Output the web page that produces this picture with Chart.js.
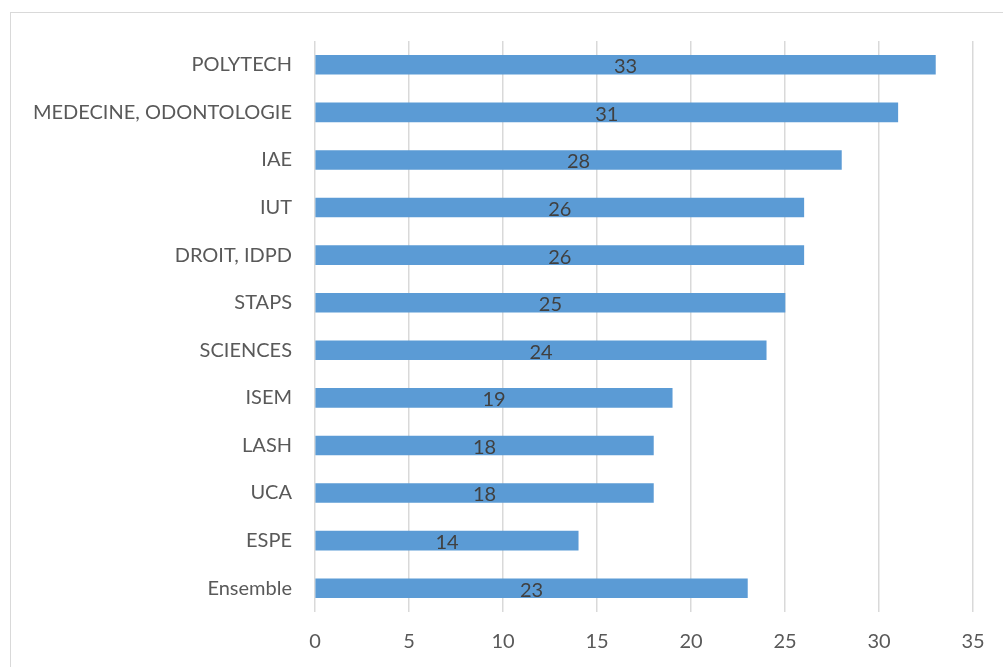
<!DOCTYPE html>
<html>
<head>
<meta charset="utf-8">
<script src="https://cdn.jsdelivr.net/npm/chart.js@4"></script>
<style>
    html, body { margin: 0; padding: 0; background: #ffffff; overflow: hidden; }
    #cadre { position: absolute; left: 10px; top: 12px; width: 1100px; height: 800px; border: 1px solid #d9d9d9; }
    #zone { position: absolute; left: 0; top: 0; width: 1003px; height: 667px; }
</style>
</head>
<body>
<div id="cadre"></div>
<div id="zone"><canvas id="barres"></canvas></div>
<script>
var composantes = ["POLYTECH", "MEDECINE, ODONTOLOGIE", "IAE", "IUT", "DROIT, IDPD", "STAPS",
    "SCIENCES", "ISEM", "LASH", "UCA", "ESPE", "Ensemble"];
var valeurs = [33, 31, 28, 26, 26, 25, 24, 19, 18, 18, 14, 23];
var graduations = [0, 5, 10, 15, 20, 25, 30, 35];

var police = "Lato, 'Open Sans', sans-serif";

// etiquettes au centre des barres
var etiquettes = {
    id: 'etiquettes',
    afterDatasetsDraw: function(chart) {
        var ctx = chart.ctx;
        var meta = chart.getDatasetMeta(0);
        ctx.save();
        ctx.fillStyle = '#404040';
        ctx.font = '20px ' + police;
        ctx.textAlign = 'center';
        ctx.textBaseline = 'middle';
        meta.data.forEach(function(bar, i) {
            var x = (bar.x + bar.base) / 2;
            ctx.fillText(String(valeurs[i]), x, bar.y + 2);
        });
        ctx.restore();
    }
};

var barres = document.getElementById("barres");
var monGraphique = new Chart(barres, {
    type: 'bar',
    data: {
        labels: composantes,
        datasets: [{
            data: valeurs,
            backgroundColor: "#5B9BD5",
            borderWidth: 0,
            barThickness: 19
        }]
    },
    options: {
        indexAxis: 'y',
        responsive: true,
        maintainAspectRatio: false,
        animation: false,
        layout: {
            padding: { top: 41, right: 30, bottom: 0, left: 0 }
        },
        plugins: {
            legend: { display: false },
            tooltip: { enabled: false }
        },
        scales: {
            x: {
                min: 0,
                max: 35,
                afterBuildTicks: function(axis) {
                    axis.ticks = graduations.map(function(v) { return { value: v }; });
                },
                afterFit: function(axis) { axis.height = 55; },
                border: { display: false },
                grid: { color: '#d9d9d9', lineWidth: 1.5, drawTicks: false },
                ticks: { color: '#595959', font: { family: police, size: 20 }, padding: 18 }
            },
            y: {
                afterFit: function(axis) { axis.width = 315; },
                border: { display: false },
                grid: { display: false, drawTicks: false },
                ticks: { color: '#595959', font: { family: police, size: 20 }, padding: 23 }
            }
        }
    },
    plugins: [etiquettes]
});
</script>
</body>
</html>
